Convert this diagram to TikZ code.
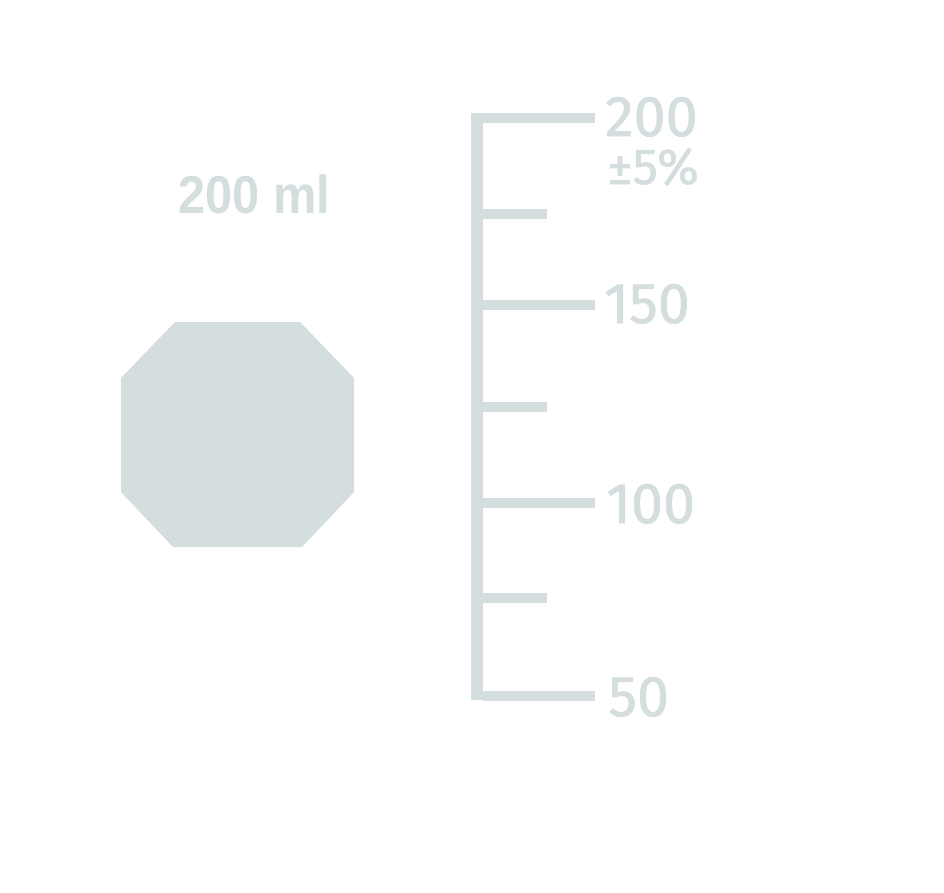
\documentclass[tikz,border=0pt]{standalone}
\usepackage{fontspec}
\setmainfont{Fira Sans}[FakeBold=1.2]
\newfontfamily\mlfont{Liberation Sans}
\definecolor{pale}{RGB}{213,222,223}
\begin{document}
\begin{tikzpicture}[x=0.75pt,y=-0.75pt,
  tick/.style={draw=pale,line width=7.5pt},
  num/.style={text=pale,anchor=base west,inner sep=0pt,font=\fontsize{43}{43}\selectfont},
]
\useasboundingbox[fill=white] (0,0) rectangle (944,892);
% octagon
\fill[pale] (175,322) -- (300,322) -- (354,378) -- (354,492) -- (302,547) -- (173,547) -- (121,492) -- (121,378) -- cycle;
\node[num,xscale=0.915,font=\mlfont\bfseries\fontsize{40}{40}\selectfont] (ml) at (178,213) {200 ml};
% scale
\fill[pale] (471,113) rectangle (483,700);
\coordinate (b200) at (483,117.5);
\coordinate (b175) at (483,214);
\coordinate (b150) at (483,304.5);
\coordinate (b125) at (483,407);
\coordinate (b100) at (483,503);
\coordinate (b75) at (483,598);
\coordinate (b50) at (483,695.5);
\coordinate (e200) at (595,117.5);
\coordinate (e175) at (547,214);
\coordinate (e150) at (595,304.5);
\coordinate (e125) at (547,407);
\coordinate (e100) at (595,503);
\coordinate (e75) at (547,598);
\coordinate (e50) at (595,695.5);
\foreach \v in {200,175,150,125,100,75,50} \draw[tick] (b\v) -- (e\v);
\node[num] (l200) at (605,136) {200};
\node[num,text height=22pt,text depth=0pt,font=\fontsize{38}{38}\selectfont] (tol) at (607,184) {±5\%};
\node[num] (l150) at (604,323) {150};
\node[num] (l100) at (606,523) {100};
\node[num] (l50) at (608,716) {50};
\end{tikzpicture}
\end{document}
